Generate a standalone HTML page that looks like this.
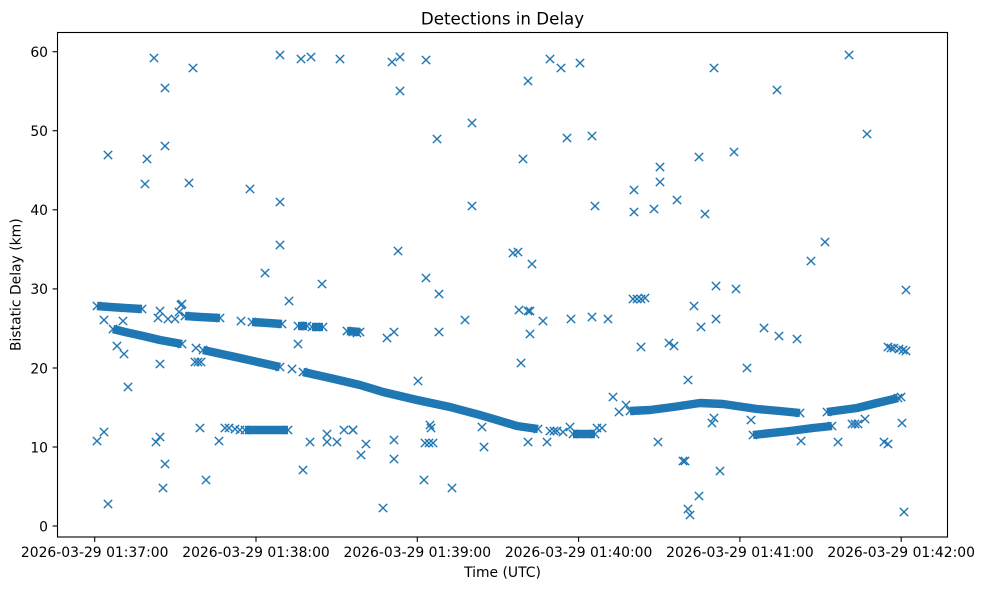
<!DOCTYPE html>
<html><head><meta charset="utf-8"><style>
html,body{margin:0;padding:0;background:#fff;}
svg{display:block;}
text{font-family:"DejaVu Sans","Liberation Sans",sans-serif;fill:#000;}
</style></head><body>
<svg width="984" height="590" viewBox="0 0 984 590" xmlns="http://www.w3.org/2000/svg">
<defs>
<path id="m" d="M-4.17-4.17L4.17 4.17M-4.17 4.17L4.17-4.17" stroke="#1f77b4" stroke-width="1.39" fill="none"/>
</defs>
<rect x="0" y="0" width="984" height="590" fill="#fff"/>
<!-- bands -->
<g fill="none" stroke="#1f77b4" stroke-width="8.4" stroke-linejoin="round" stroke-linecap="butt">
<polyline points="97,306 110,307 125,308 142,309"/>
<polyline points="185,316 200,317 220,318"/>
<polyline points="252,322 268,323 282,324"/>
<polyline points="298,326 307,326"/>
<polyline points="312,327 323,327"/>
<polyline points="347,331 360,332"/>
<polyline points="113,329 125,332 143,336 160,340 182,344"/>
<polyline points="203,350 240,358 280,367"/>
<polyline points="303,372 330,378 360,385 383,392 417,400 450,407 480,415 497,420 517,426 538,429"/>
<polyline points="573,434 595,434"/>
<polyline points="245,430 288,430"/>
<polyline points="630,411 650,410 673,407 700,403 723,404 757,409 780,411 800,413"/>
<polyline points="753,435 790,431 813,428 832,426"/>
<polyline points="827,412 857,408 877,403 898,398"/>
</g>
<g>
<!-- band end markers -->
<use href="#m" x="97" y="306"/><use href="#m" x="142" y="309"/>
<use href="#m" x="185" y="316"/><use href="#m" x="220" y="318"/>
<use href="#m" x="252" y="322"/><use href="#m" x="282" y="324"/>
<use href="#m" x="298" y="326"/><use href="#m" x="307" y="326"/>
<use href="#m" x="312" y="327"/><use href="#m" x="323" y="327"/>
<use href="#m" x="347" y="331"/><use href="#m" x="360" y="332"/>
<use href="#m" x="113" y="329"/><use href="#m" x="182" y="344"/>
<use href="#m" x="203" y="350"/><use href="#m" x="280" y="367"/>
<use href="#m" x="303" y="372"/><use href="#m" x="538" y="429"/>
<use href="#m" x="573" y="434"/><use href="#m" x="595" y="434"/>
<use href="#m" x="245" y="430"/><use href="#m" x="288" y="430"/>
<use href="#m" x="630" y="411"/><use href="#m" x="800" y="413"/>
<use href="#m" x="753" y="435"/><use href="#m" x="832" y="426"/>
<use href="#m" x="827" y="412"/><use href="#m" x="898" y="398"/>
<use href="#m" x="901" y="397"/>
<use href="#m" x="225" y="428"/><use href="#m" x="229" y="428"/><use href="#m" x="235" y="429"/><use href="#m" x="240" y="430"/>
<use href="#m" x="550" y="431"/><use href="#m" x="554" y="431"/><use href="#m" x="557" y="431"/><use href="#m" x="563" y="432"/><use href="#m" x="570" y="427"/>
<use href="#m" x="597" y="428"/><use href="#m" x="602" y="428"/>
<use href="#m" x="160" y="311"/><use href="#m" x="182" y="304"/><use href="#m" x="158" y="318"/><use href="#m" x="168" y="319"/><use href="#m" x="175" y="319"/><use href="#m" x="179" y="312"/>
<use href="#m" x="241" y="321"/>
<!-- upper left -->
<use href="#m" x="154" y="58"/><use href="#m" x="193" y="68"/><use href="#m" x="165" y="88"/><use href="#m" x="280" y="55"/><use href="#m" x="301" y="59"/><use href="#m" x="311" y="57"/><use href="#m" x="340" y="59"/><use href="#m" x="108" y="155"/><use href="#m" x="147" y="159"/><use href="#m" x="165" y="146"/><use href="#m" x="145" y="184"/><use href="#m" x="189" y="183"/><use href="#m" x="250" y="189"/><use href="#m" x="280" y="202"/><use href="#m" x="280" y="245"/><use href="#m" x="265" y="273"/><use href="#m" x="322" y="284"/>
<!-- upper middle -->
<use href="#m" x="392" y="62"/><use href="#m" x="400" y="57"/><use href="#m" x="426" y="60"/><use href="#m" x="550" y="59"/><use href="#m" x="561" y="68"/><use href="#m" x="580" y="63"/><use href="#m" x="528" y="81"/><use href="#m" x="400" y="91"/><use href="#m" x="472" y="123"/><use href="#m" x="437" y="139"/><use href="#m" x="567" y="138"/><use href="#m" x="592" y="136"/><use href="#m" x="523" y="159"/><use href="#m" x="634" y="190"/><use href="#m" x="472" y="206"/><use href="#m" x="595" y="206"/><use href="#m" x="634" y="212"/><use href="#m" x="398" y="251"/><use href="#m" x="513" y="253"/><use href="#m" x="518" y="252"/><use href="#m" x="532" y="264"/><use href="#m" x="426" y="278"/>
<!-- upper right -->
<use href="#m" x="714" y="68"/><use href="#m" x="849" y="55"/><use href="#m" x="777" y="90"/><use href="#m" x="867" y="134"/><use href="#m" x="699" y="157"/><use href="#m" x="734" y="152"/><use href="#m" x="660" y="167"/><use href="#m" x="660" y="182"/><use href="#m" x="677" y="200"/><use href="#m" x="654" y="209"/><use href="#m" x="705" y="214"/><use href="#m" x="825" y="242"/><use href="#m" x="811" y="261"/><use href="#m" x="716" y="286"/><use href="#m" x="736" y="289"/><use href="#m" x="906" y="290"/>
<!-- lower left -->
<use href="#m" x="289" y="301"/><use href="#m" x="181" y="305"/><use href="#m" x="104" y="320"/><use href="#m" x="123" y="321"/><use href="#m" x="117" y="346"/><use href="#m" x="124" y="354"/><use href="#m" x="160" y="364"/><use href="#m" x="128" y="387"/><use href="#m" x="298" y="344"/><use href="#m" x="292" y="369"/><use href="#m" x="97" y="441"/><use href="#m" x="104" y="432"/><use href="#m" x="156" y="442"/><use href="#m" x="160" y="437"/><use href="#m" x="200" y="428"/><use href="#m" x="219" y="441"/><use href="#m" x="310" y="442"/><use href="#m" x="327" y="434"/><use href="#m" x="327" y="442"/><use href="#m" x="337" y="442"/><use href="#m" x="344" y="430"/><use href="#m" x="353" y="430"/><use href="#m" x="165" y="464"/><use href="#m" x="303" y="470"/><use href="#m" x="163" y="488"/><use href="#m" x="206" y="480"/><use href="#m" x="108" y="504"/><use href="#m" x="196" y="348"/><use href="#m" x="195" y="362"/><use href="#m" x="198" y="362"/><use href="#m" x="201" y="362"/>
<!-- lower middle -->
<use href="#m" x="439" y="294"/><use href="#m" x="519" y="310"/><use href="#m" x="528" y="311"/><use href="#m" x="530" y="311"/><use href="#m" x="465" y="320"/><use href="#m" x="543" y="321"/><use href="#m" x="571" y="319"/><use href="#m" x="592" y="317"/><use href="#m" x="608" y="319"/><use href="#m" x="633" y="299"/><use href="#m" x="637" y="299"/><use href="#m" x="641" y="299"/><use href="#m" x="645" y="298"/><use href="#m" x="641" y="347"/><use href="#m" x="353" y="332"/><use href="#m" x="357" y="333"/><use href="#m" x="387" y="338"/><use href="#m" x="394" y="332"/><use href="#m" x="439" y="332"/><use href="#m" x="530" y="334"/><use href="#m" x="521" y="363"/><use href="#m" x="418" y="381"/><use href="#m" x="613" y="397"/><use href="#m" x="619" y="412"/><use href="#m" x="626" y="405"/><use href="#m" x="353" y="430"/><use href="#m" x="366" y="444"/><use href="#m" x="361" y="455"/><use href="#m" x="394" y="440"/><use href="#m" x="394" y="459"/><use href="#m" x="430" y="425"/><use href="#m" x="431" y="428"/><use href="#m" x="425" y="443"/><use href="#m" x="429" y="443"/><use href="#m" x="433" y="443"/><use href="#m" x="482" y="427"/><use href="#m" x="484" y="447"/><use href="#m" x="528" y="442"/><use href="#m" x="547" y="442"/><use href="#m" x="424" y="480"/><use href="#m" x="452" y="488"/><use href="#m" x="383" y="508"/>
<!-- lower right -->
<use href="#m" x="694" y="306"/><use href="#m" x="716" y="319"/><use href="#m" x="701" y="327"/><use href="#m" x="764" y="328"/><use href="#m" x="779" y="336"/><use href="#m" x="797" y="339"/><use href="#m" x="669" y="343"/><use href="#m" x="674" y="346"/><use href="#m" x="747" y="368"/><use href="#m" x="688" y="380"/><use href="#m" x="888" y="347"/><use href="#m" x="891" y="348"/><use href="#m" x="894" y="348"/><use href="#m" x="899" y="349"/><use href="#m" x="903" y="350"/><use href="#m" x="906" y="351"/><use href="#m" x="712" y="423"/><use href="#m" x="714" y="418"/><use href="#m" x="751" y="420"/><use href="#m" x="658" y="442"/><use href="#m" x="683" y="461"/><use href="#m" x="685" y="461"/><use href="#m" x="720" y="471"/><use href="#m" x="699" y="496"/><use href="#m" x="688" y="509"/><use href="#m" x="690" y="515"/><use href="#m" x="801" y="441"/><use href="#m" x="838" y="442"/><use href="#m" x="852" y="424"/><use href="#m" x="855" y="424"/><use href="#m" x="858" y="424"/><use href="#m" x="865" y="419"/><use href="#m" x="884" y="442"/><use href="#m" x="888" y="444"/><use href="#m" x="902" y="423"/><use href="#m" x="904" y="512"/>
</g>
<!-- axes frame -->
<rect x="57.5" y="32.5" width="890" height="504.5" fill="none" stroke="#000" stroke-width="1.1"/>
<!-- ticks -->
<g stroke="#000" stroke-width="1.1">
<line x1="94.7" y1="537" x2="94.7" y2="541.9"/>
<line x1="256" y1="537" x2="256" y2="541.9"/>
<line x1="417.3" y1="537" x2="417.3" y2="541.9"/>
<line x1="578.6" y1="537" x2="578.6" y2="541.9"/>
<line x1="739.9" y1="537" x2="739.9" y2="541.9"/>
<line x1="901.2" y1="537" x2="901.2" y2="541.9"/>
<line x1="52.6" y1="526" x2="57.5" y2="526"/>
<line x1="52.6" y1="447" x2="57.5" y2="447"/>
<line x1="52.6" y1="368" x2="57.5" y2="368"/>
<line x1="52.6" y1="288.9" x2="57.5" y2="288.9"/>
<line x1="52.6" y1="209.8" x2="57.5" y2="209.8"/>
<line x1="52.6" y1="130.7" x2="57.5" y2="130.7"/>
<line x1="52.6" y1="51.7" x2="57.5" y2="51.7"/>
</g>
<g font-size="13.9" text-anchor="end">
<text x="48" y="531.3">0</text>
<text x="48" y="452.3">10</text>
<text x="48" y="373.3">20</text>
<text x="48" y="294.2">30</text>
<text x="48" y="215.1">40</text>
<text x="48" y="136">50</text>
<text x="48" y="57">60</text>
</g>
<g font-size="13.9" text-anchor="middle">
<text x="94.7" y="557">2026-03-29 01:37:00</text>
<text x="256" y="557">2026-03-29 01:38:00</text>
<text x="417.3" y="557">2026-03-29 01:39:00</text>
<text x="578.6" y="557">2026-03-29 01:40:00</text>
<text x="739.9" y="557">2026-03-29 01:41:00</text>
<text x="901.2" y="557">2026-03-29 01:42:00</text>
<text x="502.5" y="577">Time (UTC)</text>
</g>
<text x="0" y="0" font-size="13.9" text-anchor="middle" transform="translate(20.5,284.7) rotate(-90)">Bistatic Delay (km)</text>
<text x="502.5" y="24.3" font-size="16.67" text-anchor="middle">Detections in Delay</text>
</svg>
</body></html>
